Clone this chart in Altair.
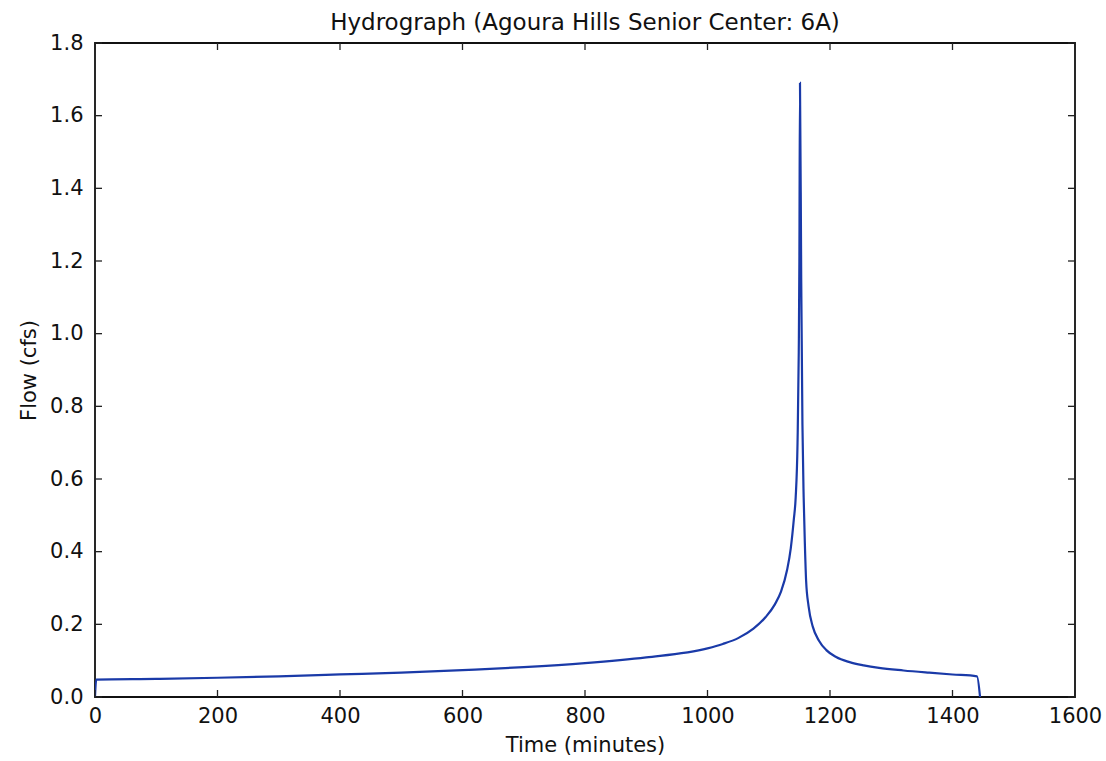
import altair as alt
import pandas as pd

time_min = [0, 2, 100, 200, 300, 400, 500, 600, 700, 800, 900, 1000, 1025, 1050,
            1075, 1095, 1110, 1120, 1130, 1136, 1141, 1144, 1147, 1149, 1150, 1151,
            1153, 1155, 1157, 1159, 1161, 1165, 1172, 1182, 1194, 1210, 1232, 1255,
            1280, 1320, 1362, 1400, 1440, 1445]
flow_cfs = [0.0, 0.048, 0.050, 0.053, 0.057, 0.062, 0.067, 0.074, 0.082, 0.093, 0.109,
            0.134, 0.146, 0.162, 0.188, 0.220, 0.255, 0.290, 0.350, 0.410, 0.490,
            0.550, 0.700, 0.950, 1.200, 1.690, 1.150, 0.750, 0.550, 0.420, 0.320,
            0.250, 0.193, 0.155, 0.129, 0.110, 0.096, 0.087, 0.080, 0.073, 0.067,
            0.062, 0.057, 0.0]

x_ticks = [0, 200, 400, 600, 800, 1000, 1200, 1400, 1600]
y_ticks = [0.0, 0.2, 0.4, 0.6, 0.8, 1.0, 1.2, 1.4, 1.6, 1.8]

df = pd.DataFrame({"t": time_min, "q": flow_cfs})
xt = pd.DataFrame({"v": x_ticks})
yt = pd.DataFrame({"v": y_ticks})

W, H = 980, 654
FONT = "DejaVu Sans"
TL = 7

xs = alt.Scale(domain=[0, 1600], nice=False, zero=False)
ys = alt.Scale(domain=[0, 1.8], nice=False, zero=False)

line = alt.Chart(df).mark_line(color="#1a3aa8", strokeWidth=2.2, clip=True,
                               interpolate="monotone").encode(
    x=alt.X("t:Q", scale=xs, title="Time (minutes)",
            axis=alt.Axis(values=x_ticks, format="d", grid=False, ticks=False,
                          domain=False, labelFontSize=21, labelPadding=8,
                          titleFontSize=21, titleFontWeight="normal", titlePadding=8,
                          labelColor="#111", titleColor="#111", labelFont=FONT,
                          titleFont=FONT, labelFlush=False)),
    y=alt.Y("q:Q", scale=ys, title="Flow (cfs)",
            axis=alt.Axis(values=y_ticks, format=".1f", grid=False, ticks=False,
                          domain=False, labelFontSize=21, labelPadding=12,
                          titleFontSize=21, titleFontWeight="normal", titlePadding=10,
                          labelColor="#111", titleColor="#111", labelFont=FONT,
                          titleFont=FONT, labelFlush=False)),
)

tick_style = dict(color="#222", strokeWidth=1.3)
xb = alt.Chart(xt).mark_rule(**tick_style).encode(
    x=alt.X("v:Q", scale=xs), y=alt.value(H), y2=alt.value(H - TL))
xtop = alt.Chart(xt).mark_rule(**tick_style).encode(
    x=alt.X("v:Q", scale=xs), y=alt.value(0), y2=alt.value(TL))
yl = alt.Chart(yt).mark_rule(**tick_style).encode(
    y=alt.Y("v:Q", scale=ys), x=alt.value(0), x2=alt.value(TL))
yr = alt.Chart(yt).mark_rule(**tick_style).encode(
    y=alt.Y("v:Q", scale=ys), x=alt.value(W), x2=alt.value(W - TL))

chart = alt.layer(line, xb, xtop, yl, yr).properties(
    width=W, height=H,
    background="white",
    title=alt.TitleParams("Hydrograph (Agoura Hills Senior Center: 6A)",
                          fontSize=23, fontWeight="normal", font=FONT,
                          color="#111", offset=-3, anchor="middle"),
    autosize=alt.AutoSizeParams(type="none"),
    padding={"left": 95, "top": 43, "right": 31, "bottom": 64},
).configure_view(stroke="#111", strokeWidth=1.8)

chart.save("out.html", embed_options={"renderer": "svg", "actions": False})
